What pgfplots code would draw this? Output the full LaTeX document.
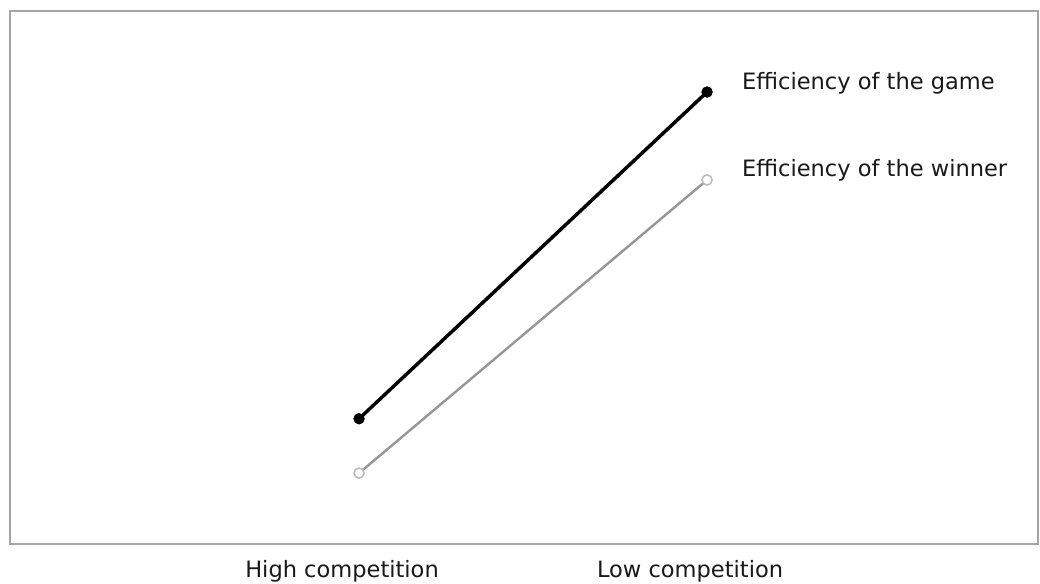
\documentclass[border=0pt]{standalone}
\usepackage{pgfplots}
\pgfplotsset{compat=1.18}
\usepackage{fontspec}
\setmainfont{DejaVu Sans}
\definecolor{boxgray}{RGB}{165,165,165}
\definecolor{wingray}{RGB}{150,150,150}
\definecolor{markgray}{RGB}{190,190,190}
\definecolor{txt}{RGB}{25,25,25}
\newcommand{\lbl}{\fontsize{16.9}{19}\selectfont}
\begin{document}
\begin{tikzpicture}
\begin{axis}[
  scale only axis,
  width=771pt, height=399.75pt,
  xmin=-1.003, xmax=1.951,
  ymin=0, ymax=10,
  axis line style={draw=boxgray, line width=1.5pt},
  xtick={0,1},
  xticklabels={High competition, Low competition},
  xticklabel style={font=\lbl, text=txt, xshift=-12.75pt, yshift=-8.5pt},
  major tick length=0pt,
  ytick=\empty,
  clip=false,
]
% efficiency of the game
\addplot[black, line width=2.6pt, mark=*, mark size=4pt,
  mark options={fill=black, line width=0.5pt}] coordinates {
(0,2.35) (1,8.48)
};
% efficiency of the winner
\addplot[wingray, line width=1.8pt, mark=*, mark size=3.8pt,
  mark options={draw=markgray, fill=white, line width=1.2pt}] coordinates {
(0,1.33) (1,6.83)
};
\node[anchor=west, font=\lbl, text=txt, inner sep=0pt] at (axis cs:1.10,8.65) {Efficiency of the game};
\node[anchor=west, font=\lbl, text=txt, inner sep=0pt] at (axis cs:1.10,7.02) {Efficiency of the winner};
\end{axis}
\pgfresetboundingbox
\path[use as bounding box] ([shift={(-7.5pt,-29.25pt)}]current axis.south west) rectangle ([shift={(1.5pt,8.25pt)}]current axis.north east);
\end{tikzpicture}
\end{document}
